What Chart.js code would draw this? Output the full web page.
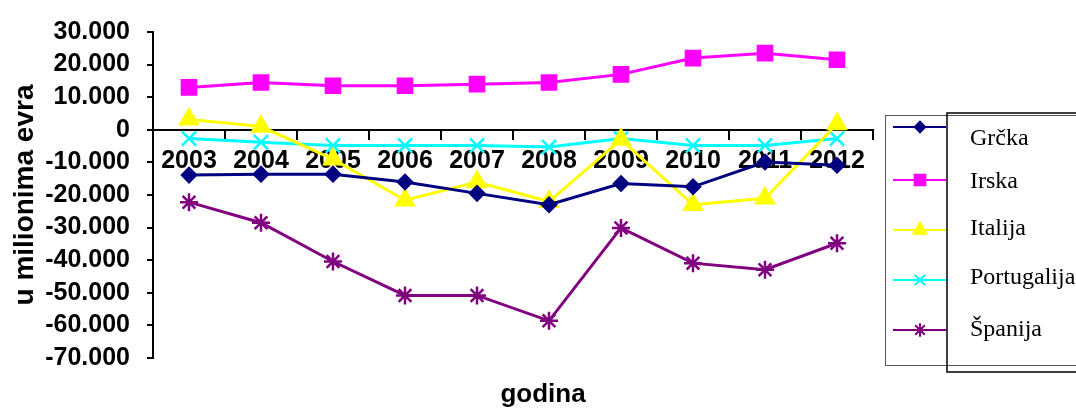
<!DOCTYPE html>
<html lang="sr">
<head>
<meta charset="UTF-8">
<title>Tekući račun</title>
<script src="https://cdn.jsdelivr.net/npm/chart.js@4"></script>
<style>
  html, body { margin: 0; padding: 0; background: #fff; }
  #wrap { width: 1076px; height: 412px; }
</style>
</head>
<body>
<div id="wrap"><canvas id="chart"></canvas></div>
<script>
  // values (u milionima evra)
  const years = ['2003', '2004', '2005', '2006', '2007', '2008', '2009', '2010', '2011', '2012'];
  const grcka = [-13900, -13600, -13600, -16000, -19500, -23000, -16500, -17500, -9900, -10900];
  const irska = [13000, 14500, 13500, 13500, 14000, 14500, 17000, 22000, 23500, 21500];
  const italija = [3200, 1000, -9000, -21600, -16000, -22000, -3000, -23000, -21000, 1800];
  const portugalija = [-2700, -3800, -4800, -4800, -4800, -5300, -2700, -4800, -4800, -2700];
  const spanija = [-22200, -28500, -40400, -50800, -50800, -58600, -30100, -40900, -42900, -34800];
  const yTickValues = [30000, 20000, 10000, 0, -10000, -20000, -30000, -40000, -50000, -60000, -70000];

  function fmt(v) {
    if (v === 0) return '0';
    return (v < 0 ? '-' : '') + Math.abs(v / 1000) + '.000';
  }

  function series(label, data, color, style, radius) {
    return {
      label: label,
      data: data,
      borderColor: color,
      backgroundColor: color,
      borderWidth: 3,
      pointStyle: style,
      pointRadius: radius,
      pointBackgroundColor: color,
      pointBorderColor: color,
      pointBorderWidth: 2.5,
      tension: 0,
      fill: false
    };
  }

  // legend drawn by hand, it has two overlapping frames in the original
  const legendRows = [127, 180, 230, 280, 330];
  const legendText = [139, 182, 229, 278, 330];
  const sideBits = {
    id: 'sideBits',
    afterDraw(chart) {
      const ctx = chart.ctx;
      ctx.save();
      ctx.strokeStyle = '#555';
      ctx.lineWidth = 1;
      ctx.strokeRect(885.5, 115.5, 220, 250);
      ctx.strokeStyle = '#000';
      ctx.lineWidth = 1.5;
      ctx.strokeRect(947, 113, 220, 259);

      chart.data.datasets.forEach((ds, i) => {
        const y = legendRows[i];
        ctx.strokeStyle = ds.borderColor;
        ctx.lineWidth = 2;
        ctx.beginPath();
        ctx.moveTo(893, y);
        ctx.lineTo(946, y);
        ctx.stroke();
        ctx.fillStyle = ds.pointBackgroundColor;
        ctx.strokeStyle = ds.pointBorderColor;
        ctx.lineWidth = 2;
        if (Chart.helpers && Chart.helpers.drawPoint) {
          Chart.helpers.drawPoint(ctx, {
            pointStyle: ds.pointStyle,
            radius: ds.pointRadius * 0.75,
            rotation: 0,
            borderWidth: 2
          }, 920, y);
        }
        ctx.fillStyle = '#000';
        ctx.font = '24px "Liberation Serif", "Times New Roman", serif';
        ctx.textAlign = 'left';
        ctx.textBaseline = 'middle';
        ctx.fillText(ds.label, 970, legendText[i]);
      });

      ctx.fillStyle = '#000';
      ctx.font = 'bold 26px "Liberation Sans", Arial, sans-serif';
      ctx.textAlign = 'center';
      ctx.textBaseline = 'middle';
      ctx.fillText('godina', 543, 395);
      ctx.restore();
    }
  };

  const fam = '"Liberation Sans", Arial, sans-serif';

  new Chart(document.getElementById('chart'), {
    type: 'line',
    data: {
      labels: years,
      datasets: [
        series('Grčka', grcka, '#000080', 'rectRot', 7),
        series('Irska', irska, '#ff00ff', 'rect', 10),
        series('Italija', italija, '#ffff00', 'triangle', 10),
        series('Portugalija', portugalija, '#00ffff', 'crossRot', 10),
        series('Španija', spanija, '#800080', 'star', 9)
      ]
    },
    options: {
      responsive: true,
      maintainAspectRatio: false,
      animation: false,
      layout: { padding: { top: 29, right: 203, bottom: 54, left: 0 } },
      plugins: {
        legend: { display: false },
        tooltip: { enabled: false }
      },
      scales: {
        x: {
          type: 'category',
          offset: true,
          position: { y: 0 },
          z: 1,
          grid: { offset: true, drawOnChartArea: false, tickLength: 9, color: '#000', lineWidth: 2 },
          border: { color: '#000', width: 2 },
          ticks: { color: '#000', font: { family: fam, weight: 'bold', size: 25 }, padding: 7, maxRotation: 0, autoSkip: false }
        },
        y: {
          min: -70000,
          max: 30000,
          afterFit: s => { s.width = 153; },
          afterBuildTicks: s => { s.ticks = yTickValues.map(v => ({ value: v })); },
          grid: { drawOnChartArea: false, tickLength: 6, color: '#000', lineWidth: 2 },
          border: { color: '#000', width: 2 },
          ticks: { color: '#000', font: { family: fam, weight: 'bold', size: 25 }, padding: 17, autoSkip: false, callback: fmt },
          title: {
            display: true,
            text: 'u milionima evra',
            color: '#000',
            font: { family: fam, weight: 'bold', size: 28 },
            padding: { top: 8, bottom: 0 }
          }
        }
      }
    },
    plugins: [sideBits]
  });
</script>
</body>
</html>
